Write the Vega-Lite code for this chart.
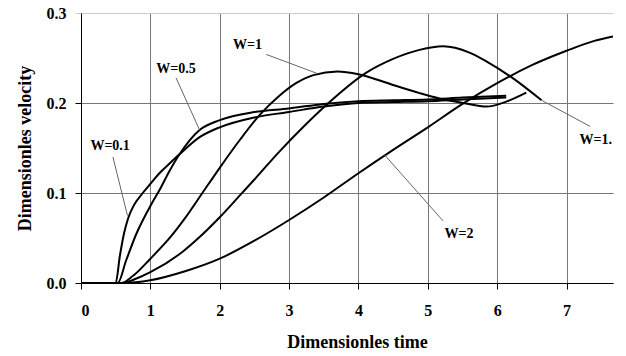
{
  "$schema": "https://vega.github.io/schema/vega-lite/v6.json",
  "width": 532,
  "height": 270,
  "autosize": {"type": "none"},
  "padding": {"left": 81, "top": 13, "right": 13, "bottom": 73},
  "background": "white",
  "config": {
    "view": {"stroke": null},
    "font": "Liberation Serif"
  },
  "datasets": {
    "curves": [
      {"s": "W=0.1", "t": 0, "v": 0}, {"s": "W=0.1", "t": 0.5, "v": 0}, {"s": "W=0.1", "t": 0.56, "v": 0.03}, {"s": "W=0.1", "t": 0.62, "v": 0.055}, {"s": "W=0.1", "t": 0.68, "v": 0.072}, {"s": "W=0.1", "t": 0.76, "v": 0.086}, {"s": "W=0.1", "t": 0.89, "v": 0.1}, {"s": "W=0.1", "t": 1.01, "v": 0.111}, {"s": "W=0.1", "t": 1.13, "v": 0.122}, {"s": "W=0.1", "t": 1.28, "v": 0.133}, {"s": "W=0.1", "t": 1.42, "v": 0.143}, {"s": "W=0.1", "t": 1.71, "v": 0.162}, {"s": "W=0.1", "t": 2.0, "v": 0.173}, {"s": "W=0.1", "t": 2.5, "v": 0.184}, {"s": "W=0.1", "t": 3.0, "v": 0.19}, {"s": "W=0.1", "t": 3.5, "v": 0.196}, {"s": "W=0.1", "t": 4.0, "v": 0.2}, {"s": "W=0.1", "t": 4.5, "v": 0.201}, {"s": "W=0.1", "t": 5.0, "v": 0.202}, {"s": "W=0.1", "t": 5.5, "v": 0.204}, {"s": "W=0.1", "t": 6.13, "v": 0.206},
      {"s": "W=0.5", "t": 0, "v": 0}, {"s": "W=0.5", "t": 0.53, "v": 0}, {"s": "W=0.5", "t": 0.65, "v": 0.025}, {"s": "W=0.5", "t": 0.8, "v": 0.055}, {"s": "W=0.5", "t": 1.01, "v": 0.087}, {"s": "W=0.5", "t": 1.13, "v": 0.103}, {"s": "W=0.5", "t": 1.28, "v": 0.125}, {"s": "W=0.5", "t": 1.42, "v": 0.143}, {"s": "W=0.5", "t": 1.71, "v": 0.17}, {"s": "W=0.5", "t": 2.0, "v": 0.181}, {"s": "W=0.5", "t": 2.5, "v": 0.19}, {"s": "W=0.5", "t": 3.0, "v": 0.194}, {"s": "W=0.5", "t": 3.5, "v": 0.199}, {"s": "W=0.5", "t": 4.0, "v": 0.202}, {"s": "W=0.5", "t": 4.5, "v": 0.203}, {"s": "W=0.5", "t": 5.0, "v": 0.204}, {"s": "W=0.5", "t": 5.5, "v": 0.206}, {"s": "W=0.5", "t": 6.13, "v": 0.208},
      {"s": "W=1", "t": 0, "v": 0}, {"s": "W=1", "t": 0.58, "v": 0}, {"s": "W=1", "t": 0.75, "v": 0.008}, {"s": "W=1", "t": 1.0, "v": 0.027}, {"s": "W=1", "t": 1.3, "v": 0.052}, {"s": "W=1", "t": 1.5, "v": 0.072}, {"s": "W=1", "t": 1.75, "v": 0.1}, {"s": "W=1", "t": 2.0, "v": 0.128}, {"s": "W=1", "t": 2.3, "v": 0.16}, {"s": "W=1", "t": 2.58, "v": 0.187}, {"s": "W=1", "t": 2.86, "v": 0.208}, {"s": "W=1", "t": 3.1, "v": 0.222}, {"s": "W=1", "t": 3.35, "v": 0.231}, {"s": "W=1", "t": 3.7, "v": 0.235}, {"s": "W=1", "t": 4.0, "v": 0.232}, {"s": "W=1", "t": 4.5, "v": 0.22}, {"s": "W=1", "t": 4.88, "v": 0.211}, {"s": "W=1", "t": 5.17, "v": 0.205}, {"s": "W=1", "t": 5.51, "v": 0.2}, {"s": "W=1", "t": 5.85, "v": 0.196}, {"s": "W=1", "t": 6.13, "v": 0.2015}, {"s": "W=1", "t": 6.42, "v": 0.2115},
      {"s": "W=1.5", "t": 0, "v": 0}, {"s": "W=1.5", "t": 0.6, "v": 0}, {"s": "W=1.5", "t": 0.8, "v": 0.005}, {"s": "W=1.5", "t": 1.0, "v": 0.012}, {"s": "W=1.5", "t": 1.47, "v": 0.035}, {"s": "W=1.5", "t": 1.71, "v": 0.051}, {"s": "W=1.5", "t": 2.0, "v": 0.073}, {"s": "W=1.5", "t": 2.31, "v": 0.099}, {"s": "W=1.5", "t": 2.5, "v": 0.115}, {"s": "W=1.5", "t": 2.86, "v": 0.146}, {"s": "W=1.5", "t": 3.2, "v": 0.173}, {"s": "W=1.5", "t": 3.54, "v": 0.198}, {"s": "W=1.5", "t": 4.12, "v": 0.234}, {"s": "W=1.5", "t": 4.5, "v": 0.249}, {"s": "W=1.5", "t": 4.88, "v": 0.259}, {"s": "W=1.5", "t": 5.22, "v": 0.263}, {"s": "W=1.5", "t": 5.6, "v": 0.256}, {"s": "W=1.5", "t": 5.85, "v": 0.246}, {"s": "W=1.5", "t": 6.2, "v": 0.229}, {"s": "W=1.5", "t": 6.64, "v": 0.203},
      {"s": "W=2", "t": 0, "v": 0}, {"s": "W=2", "t": 0.62, "v": 0}, {"s": "W=2", "t": 1.0, "v": 0.003}, {"s": "W=2", "t": 1.5, "v": 0.013}, {"s": "W=2", "t": 2.0, "v": 0.027}, {"s": "W=2", "t": 2.5, "v": 0.047}, {"s": "W=2", "t": 3.0, "v": 0.07}, {"s": "W=2", "t": 3.5, "v": 0.095}, {"s": "W=2", "t": 4.0, "v": 0.122}, {"s": "W=2", "t": 4.5, "v": 0.148}, {"s": "W=2", "t": 5.0, "v": 0.173}, {"s": "W=2", "t": 5.5, "v": 0.199}, {"s": "W=2", "t": 6.0, "v": 0.222}, {"s": "W=2", "t": 6.5, "v": 0.242}, {"s": "W=2", "t": 7.0, "v": 0.258}, {"s": "W=2", "t": 7.4, "v": 0.269}, {"s": "W=2", "t": 7.67, "v": 0.274}
    ],
    "labels": [
      {"label": "W=0.1", "lx": 0.42, "ly": 0.152, "x1": 0.46, "y1": 0.140, "x2": 0.67, "y2": 0.075},
      {"label": "W=0.5", "lx": 1.37, "ly": 0.238, "x1": 1.37, "y1": 0.228, "x2": 1.71, "y2": 0.170},
      {"label": "W=1", "lx": 2.40, "ly": 0.265, "x1": 2.67, "y1": 0.254, "x2": 3.40, "y2": 0.233},
      {"label": "W=1.", "lx": 7.42, "ly": 0.159, "x1": 7.34, "y1": 0.174, "x2": 6.64, "y2": 0.203},
      {"label": "W=2", "lx": 5.45, "ly": 0.054, "x1": 5.22, "y1": 0.069, "x2": 4.38, "y2": 0.142}
    ]
  },
  "layer": [
    {
      "data": {"name": "curves"},
      "mark": {"type": "line", "color": "black", "strokeWidth": 2, "interpolate": "monotone", "clip": true},
      "encoding": {
        "x": {
          "field": "t", "type": "quantitative",
          "scale": {"domain": [0, 7.67], "nice": false, "zero": false},
          "axis": {
            "title": "Dimensionles time",
            "values": [0, 1, 2, 3, 4, 5, 6, 7],
            "format": "d",
            "grid": true, "gridColor": "#777", "gridWidth": 1, "gridOpacity": 1,
            "domainColor": "black", "domainWidth": 1,
            "tickColor": "black", "tickSize": 6,
            "labelFont": "Liberation Serif", "labelFontWeight": "bold", "labelFontSize": 16, "labelColor": "black",
            "labelPadding": 13,
            "titleFont": "Liberation Serif", "titleFontWeight": "bold", "titleFontSize": 18, "titleColor": "black",
            "titlePadding": 15, "titleX": 276
          }
        },
        "y": {
          "field": "v", "type": "quantitative",
          "scale": {"domain": [0, 0.3], "nice": false},
          "axis": {
            "title": "Dimensionles velocity",
            "values": [0, 0.1, 0.2, 0.3],
            "format": ".1f",
            "grid": true,
            "gridColor": {"condition": {"test": "datum.value >= 0.29", "value": "#cccccc"}, "value": "#777"},
            "gridWidth": 1, "gridOpacity": 1,
            "domainColor": "black", "domainWidth": 1,
            "tickColor": {"condition": {"test": "datum.value >= 0.29", "value": "#cccccc"}, "value": "black"},
            "tickSize": 6,
            "labelFont": "Liberation Serif", "labelFontWeight": "bold", "labelFontSize": 16, "labelColor": "black",
            "labelPadding": 9,
            "titleFont": "Liberation Serif", "titleFontWeight": "bold", "titleFontSize": 18, "titleColor": "black",
            "titlePadding": 12
          }
        },
        "detail": {"field": "s", "type": "nominal"}
      }
    },
    {
      "data": {"name": "labels"},
      "mark": {"type": "rule", "color": "#666", "strokeWidth": 1},
      "encoding": {
        "x": {"field": "x1", "type": "quantitative"},
        "y": {"field": "y1", "type": "quantitative"},
        "x2": {"field": "x2"},
        "y2": {"field": "y2"}
      }
    },
    {
      "data": {"name": "labels"},
      "mark": {"type": "text", "font": "Liberation Serif", "fontWeight": "bold", "fontSize": 14, "color": "black", "align": "center", "baseline": "middle"},
      "encoding": {
        "x": {"field": "lx", "type": "quantitative"},
        "y": {"field": "ly", "type": "quantitative"},
        "text": {"field": "label"}
      }
    }
  ]
}
